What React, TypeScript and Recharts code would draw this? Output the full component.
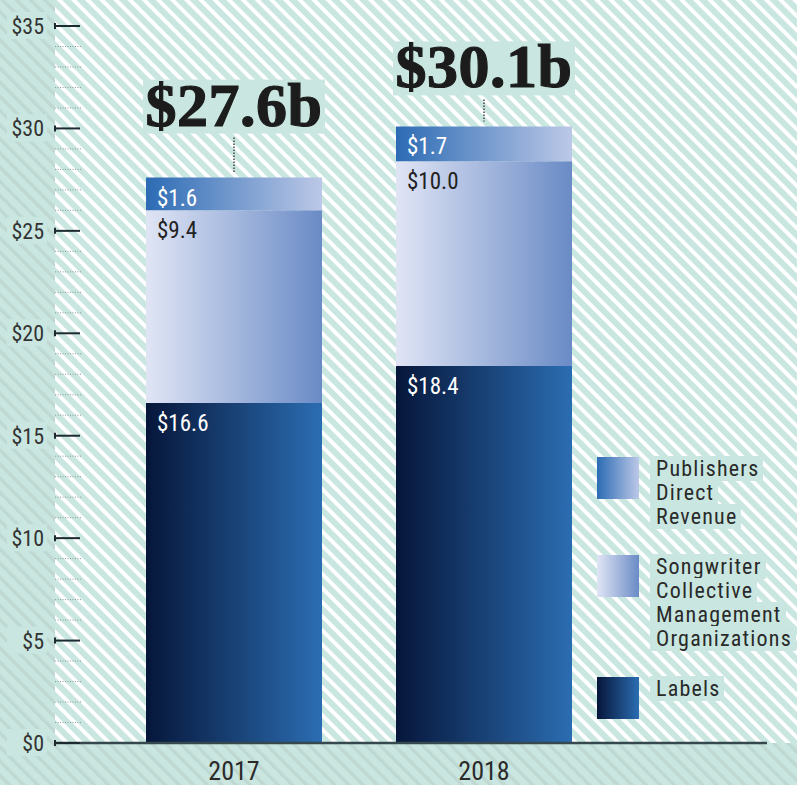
import React from 'react';
import { BarChart, Bar, XAxis, YAxis, LabelList, Legend } from 'recharts';

const years = ['2017', '2018'];
const labelsRevenue = [16.6, 18.4];
const songwriterRevenue = [9.4, 10.0];
const publishersRevenue = [1.6, 1.7];
const totals = [27.6, 30.1];
const yTicks = Array.from({ length: 36 }, (_, i) => i);
const legendLines = [
  ['Publishers', 'Direct', 'Revenue'],
  ['Songwriter', 'Collective', 'Management', 'Organizations'],
  ['Labels'],
];

const data = years.map((year, i) => ({
  year,
  labels: labelsRevenue[i],
  songwriter: songwriterRevenue[i],
  publishers: publishersRevenue[i],
  total: totals[i],
}));

const MINT = '#c9e7e0';
const NARROW = "'Liberation Sans Narrow', 'Roboto Condensed', 'DejaVu Sans Condensed', Roboto, sans-serif";
const SERIF = "'Liberation Serif', 'DejaVu Serif', serif";

const grads = {
  labels: ['#06163a', '#2b6db2'],
  songwriter: ['#e0e5f5', '#6a8bc6'],
  publishers: ['#2c6bb4', '#bcc8e7'],
};

const YTick = (props: any) => {
  const { x, y, payload } = props;
  const v = payload.value;
  if (v % 5 === 0) {
    return (
      <g>
        <rect x={x - 48} y={y - 14} width={40} height={27} fill={MINT} />
        <text x={x - 11} y={y + 8} textAnchor="end" fontSize={22} fontFamily={NARROW} fill="#333">
          {'$' + v}
        </text>
        <line x1={x} x2={x + 25} y1={y} y2={y} stroke="#1d2b31" strokeWidth={2} />
        <line x1={x} x2={x} y1={y - 3} y2={y + 3} stroke="#1d2b31" strokeWidth={2} />
      </g>
    );
  }
  return (
    <line x1={x} x2={x + 26} y1={y} y2={y} stroke="#8c9a9a" strokeWidth={1} strokeDasharray="1 1.5" />
  );
};

const XTick = (props: any) => {
  const { x, y, payload } = props;
  return (
    <text x={x} y={y + 37} textAnchor="middle" fontSize={26} fontFamily={NARROW} fill="#2a2a2a">
      {payload.value}
    </text>
  );
};

const segLabel = (color: string) => (props: any) => {
  const { x, y, value } = props;
  return (
    <text x={x + 11} y={y + 28} fontSize={23} fontFamily={NARROW} fill={color}>
      {'$' + Number(value).toFixed(1)}
    </text>
  );
};

const TotalLabel = (props: any) => {
  const { x, y, width, value, index } = props;
  const cx = x + width / 2;
  const lift = index === 0 ? 52 : 39;
  const base = y - lift;
  return (
    <g>
      <rect x={x - 3} y={base - 46} width={width + 6} height={54} fill={MINT} />
      <text
        x={cx}
        y={base}
        textAnchor="middle"
        fontSize={62}
        fontWeight="bold"
        fontFamily={SERIF}
        fill="#1c1c1c"
        stroke="#1c1c1c"
        strokeWidth={1.2}
        letterSpacing={0.5}
      >
        {'$' + Number(value).toFixed(1) + 'b'}
      </text>
      <line x1={cx} x2={cx} y1={base + 12} y2={y - 5} stroke="#444" strokeWidth={1.5} strokeDasharray="1.5 1.5" />
    </g>
  );
};

const legendGrads = [grads.publishers, grads.songwriter, grads.labels];

const LegendContent = () => (
  <div style={{ fontFamily: NARROW, fontSize: 22, lineHeight: '24px', color: '#2a2a2a', letterSpacing: 1.2 }}>
    {legendLines.map((lines, i) => (
      <div key={i} style={{ display: 'flex', alignItems: 'flex-start', marginBottom: 26 }}>
        <div
          style={{
            width: 42,
            height: 42,
            flex: '0 0 42px',
            background: `linear-gradient(to right, ${legendGrads[i][0]}, ${legendGrads[i][1]})`,
          }}
        />
        <div style={{ marginLeft: 11 }}>
          {lines.map((l) => (
            <div key={l} style={{ height: 24 }}>
              <span style={{ background: MINT, padding: '0 4px 0 6px', whiteSpace: 'nowrap' }}>{l}</span>
            </div>
          ))}
        </div>
      </div>
    ))}
  </div>
);

export default function App() {
  return (
    <div style={{ position: 'absolute', left: 0, top: 0, width: 797, height: 785, background: MINT, overflow: 'hidden' }}>
      <svg width={797} height={785} style={{ position: 'absolute', left: 0, top: 0 }}>
        <defs>
          <pattern id="greyStripes" patternUnits="userSpaceOnUse" width={10} height={10} patternTransform="rotate(-45)">
            <rect x={0} y={0} width={3.5} height={10} fill="#bfd8d2" />
          </pattern>
          <pattern id="whiteStripes" patternUnits="userSpaceOnUse" width={10} height={10} patternTransform="rotate(-45)">
            <rect x={0} y={0} width={4} height={10} fill="#ffffff" />
          </pattern>
        </defs>
        <rect x={0} y={0} width={797} height={785} fill="url(#greyStripes)" />
        <rect x={55} y={0} width={742} height={743} fill="url(#whiteStripes)" />
      </svg>
      <div style={{ position: 'absolute', left: 0, top: 0 }}>
        <BarChart width={797} height={785} data={data} margin={{ top: 26, right: 30, left: 0, bottom: 0 }}>
          <defs>
            {Object.entries(grads).map(([k, [a, b]]) => (
              <linearGradient key={k} id={'g-' + k} x1="0" y1="0" x2="1" y2="0">
                <stop offset="0%" stopColor={a} />
                <stop offset="100%" stopColor={b} />
              </linearGradient>
            ))}
          </defs>
          <XAxis
            dataKey="year"
            height={42}
            tickLine={false}
            tickSize={0}
            tickMargin={0}
            axisLine={{ stroke: '#34484e', strokeWidth: 2.5 }}
            tick={<XTick />}
            padding={{ left: 54, right: 158 }}
          />
          <YAxis
            width={55}
            domain={[0, 35]}
            ticks={yTicks}
            interval={0}
            tickLine={false}
            tickSize={0}
            tickMargin={0}
            axisLine={false}
            tick={<YTick />}
          />
          <Legend
            layout="vertical"
            align="center"
            verticalAlign="middle"
            content={<LegendContent />}
            wrapperStyle={{ left: 597, top: 457, width: 200 }}
          />
          <Bar dataKey="labels" stackId="a" barSize={176} fill="url(#g-labels)" isAnimationActive={false}>
            <LabelList dataKey="labels" content={segLabel('#ffffff')} />
          </Bar>
          <Bar dataKey="songwriter" stackId="a" barSize={176} fill="url(#g-songwriter)" isAnimationActive={false}>
            <LabelList dataKey="songwriter" content={segLabel('#222222')} />
          </Bar>
          <Bar dataKey="publishers" stackId="a" barSize={176} fill="url(#g-publishers)" isAnimationActive={false}>
            <LabelList dataKey="publishers" content={segLabel('#ffffff')} />
            <LabelList dataKey="total" content={TotalLabel} />
          </Bar>
        </BarChart>
      </div>
    </div>
  );
}
